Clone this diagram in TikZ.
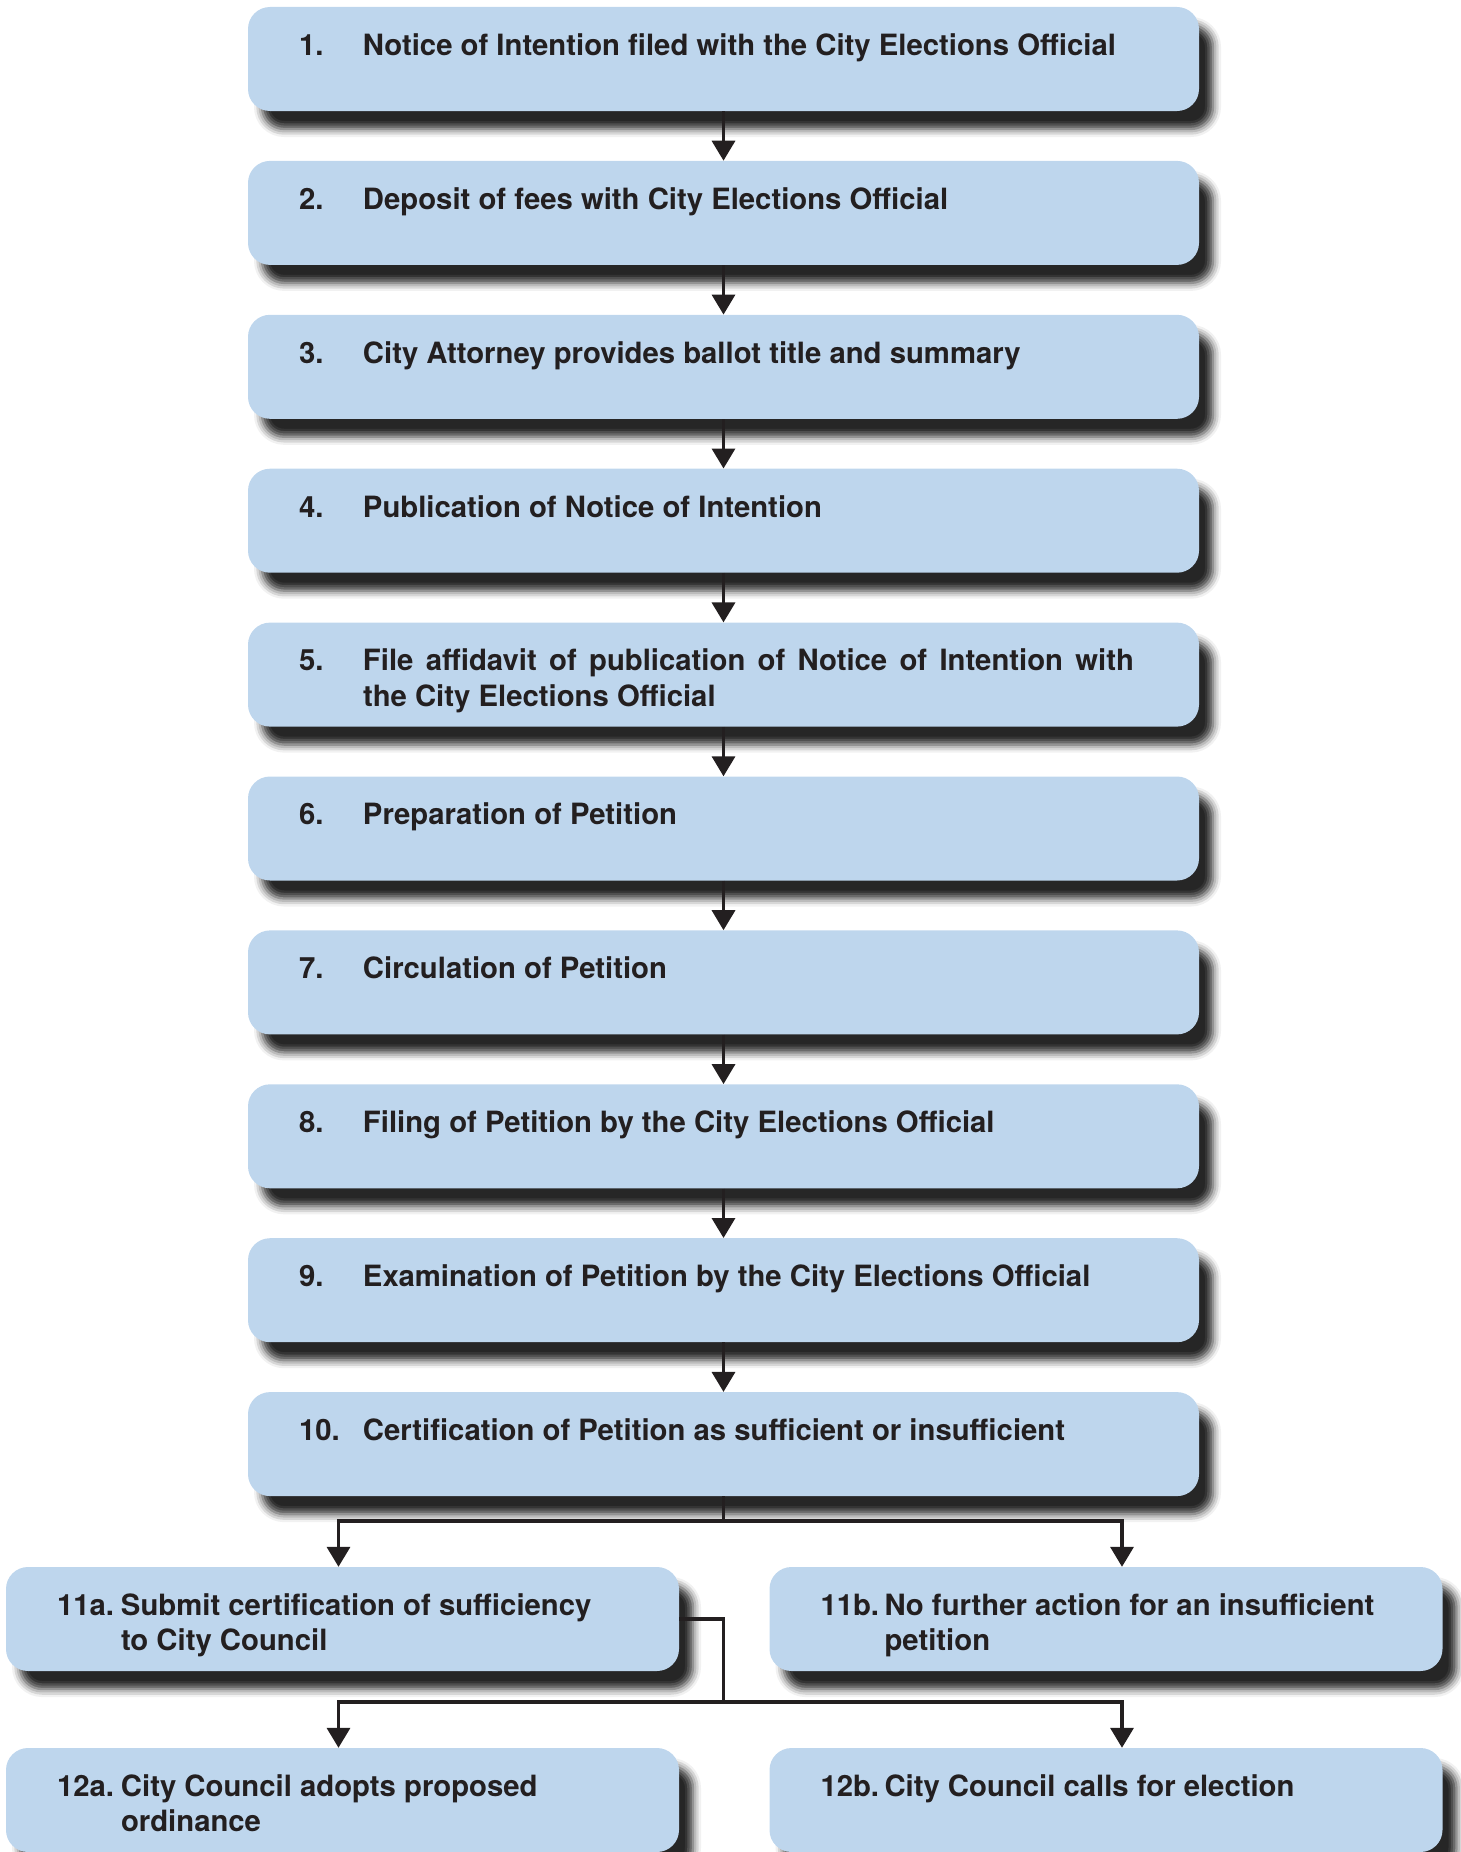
\documentclass[tikz,border=0pt]{standalone}
\usepackage{fontspec}
\setmainfont{TeX Gyre Heros}
\usetikzlibrary{positioning,arrows.meta,shadows.blur}
\definecolor{boxblue}{RGB}{190,214,237}
\definecolor{ink}{RGB}{35,31,32}
\newcommand{\stagetext}[3]{\spaceskip=0pt\xspaceskip=0pt\begin{tabular}{@{}p{64pt}@{}l@{}}\rule{0pt}{38.8pt}#1 & #2\\ & #3\end{tabular}}

\begin{document}
\begin{tikzpicture}[x=1pt, y=1pt,
	stage/.style = {shape=rectangle, rounded corners=22pt, fill=boxblue, text=ink, align=left, inner xsep=51pt, inner ysep=0pt, text width=849pt, minimum height=104pt, font=\fontsize{29.3}{35.4}\selectfont\bfseries, blur shadow={shadow xshift=14pt, shadow yshift=-18pt, shadow blur radius=8pt, shadow opacity=85}},
	substage/.style = {stage, text width=571pt},
	flow/.style = {draw=ink, line width=3.5pt, -{Triangle[width=23pt,length=20pt]}},
	link/.style = {draw=ink, line width=3.5pt}]
	\useasboundingbox (0,0) rectangle (1461,-1852);
	\node[stage] (s1) at (723.5,-59) {\stagetext{1.}{Notice of Intention filed with the City Elections Official}{}};
	\node[stage, below=49.5pt of s1] (s2) {\stagetext{2.}{Deposit of fees with City Elections Official}{}};
	\node[stage, below=49.5pt of s2] (s3) {\stagetext{3.}{City Attorney provides ballot title and summary}{}};
	\node[stage, below=49.5pt of s3] (s4) {\stagetext{4.}{Publication of Notice of Intention}{}};
	\node[stage, below=49.5pt of s4] (s5) {\stagetext{5.}{\makebox[771pt][s]{File affidavit of publication of Notice of Intention with}}{the City Elections Official}};
	\node[stage, below=49.5pt of s5] (s6) {\stagetext{6.}{Preparation of Petition}{}};
	\node[stage, below=49.5pt of s6] (s7) {\stagetext{7.}{Circulation of Petition}{}};
	\node[stage, below=49.5pt of s7] (s8) {\stagetext{8.}{Filing of Petition by the City Elections Official}{}};
	\node[stage, below=49.5pt of s8] (s9) {\stagetext{9.}{Examination of Petition by the City Elections Official}{}};
	\node[stage, below=49.5pt of s9] (s10) {\stagetext{10.}{Certification of Petition as sufficient or insufficient}{}};
	\node[substage] (s11a) at (342.5,-1619) {\stagetext{11a.}{Submit certification of sufficiency}{to City Council}};
	\node[substage] (s11b) at (1106,-1619) {\stagetext{11b.}{No further action for an insufficient}{petition}};
	\node[substage] (s12a) at (342.5,-1800) {\stagetext{12a.}{City Council adopts proposed}{ordinance}};
	\node[substage] (s12b) at (1106,-1800) {\stagetext{12b.}{City Council calls for election}{}};
	\coordinate (fork1) at (723.5,-1521);
	\coordinate (fork2) at (723.5,-1702);
	% straight steps
	\draw[flow] (s1) -- (s2);
	\draw[flow] (s2) -- (s3);
	\draw[flow] (s3) -- (s4);
	\draw[flow] (s4) -- (s5);
	\draw[flow] (s5) -- (s6);
	\draw[flow] (s6) -- (s7);
	\draw[flow] (s7) -- (s8);
	\draw[flow] (s8) -- (s9);
	\draw[flow] (s9) -- (s10);
	% branches
	\draw[link] (s10) -- (fork1);
	\draw[flow] (fork1) -| ([xshift=-4pt]s11a.north);
	\draw[flow] (fork1) -| ([xshift=16pt]s11b.north);
	\draw[link] (s11a.east) -| (fork2);
	\draw[flow] (fork2) -| ([xshift=-4pt]s12a.north);
	\draw[flow] (fork2) -| ([xshift=16pt]s12b.north);
\end{tikzpicture}
\end{document}
